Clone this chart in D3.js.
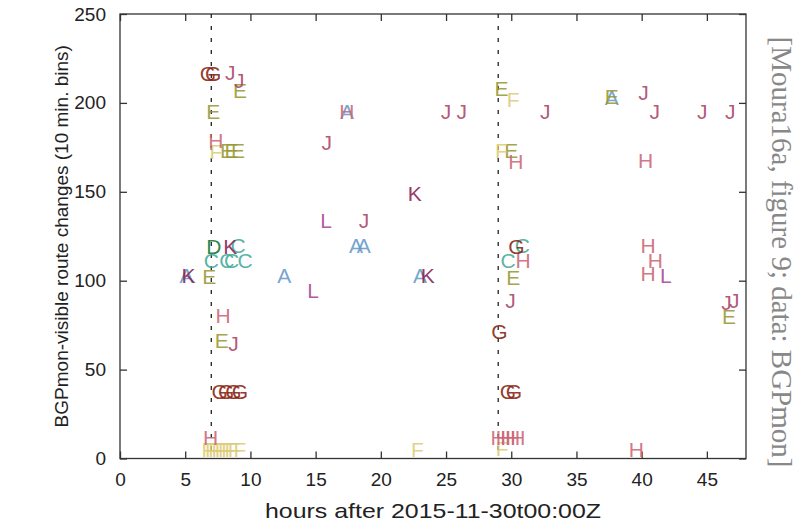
<!DOCTYPE html>
<html>
<head>
<meta charset="utf-8">
<script src="https://cdn.jsdelivr.net/npm/d3@7"></script>
<style>
  body { margin: 0; background: #fff; }
  svg { display: block; }
  .lbl { font-family: "Liberation Sans", Arial, sans-serif; }
</style>
</head>
<body>
<div id="chart"></div>
<script>
// letters (one per monitored prefix group) and their colours
var letters = ["A", "C", "D", "E", "F", "G", "H", "J", "K", "L"];
var letterColors = ["#6699cc", "#44aa99", "#117733", "#999933", "#ddcc77",
                    "#882211", "#cc6677", "#aa4466", "#882255", "#aa4499"];

// [hour, route changes] per letter
var ptsA = [[5.1, 103], [12.6, 103], [17.4, 195], [18.1, 120], [18.7, 120], [23.0, 103], [37.7, 203]];
var ptsC = [[7.0, 111.5], [8.2, 111.5], [8.55, 111.5], [9.05, 120], [9.6, 111.5], [29.75, 111.5], [30.85, 120]];
var ptsD = [[7.2, 119]];
var ptsE = [[6.85, 102.5], [7.15, 195], [7.8, 66.5], [8.2, 173], [8.55, 173], [9.05, 173], [9.2, 207],
            [29.25, 208], [30.0, 173.3], [30.15, 102], [37.7, 203.5], [46.7, 80]];
var ptsF = [[6.75, 5], [7.0, 5], [7.25, 5], [7.35, 172.5], [7.5, 5], [7.75, 5], [8.0, 5], [8.25, 5],
            [8.5, 5], [8.75, 5], [9.2, 5], [22.8, 5], [29.25, 173.3], [29.3, 5.5], [30.15, 202]];
var ptsG = [[6.75, 216.5], [7.15, 216.5], [7.65, 37.5], [8.15, 37.5], [8.7, 37.5], [9.2, 37.5],
            [29.1, 71.5], [29.75, 37.5], [30.2, 37.5], [30.4, 119]];
var ptsH = [[6.95, 12], [7.35, 179], [7.9, 80.5], [17.4, 195], [29.0, 12], [29.4, 12], [29.75, 12],
            [30.1, 12], [30.35, 167], [30.5, 12], [30.9, 111.5], [39.6, 5], [40.3, 167.5],
            [40.5, 120], [40.5, 104], [41.05, 111.5]];
var ptsJ = [[8.45, 217], [8.7, 64.5], [9.15, 212.5], [15.85, 178], [18.7, 134], [25.0, 195], [26.2, 195],
            [29.95, 89], [32.6, 195], [40.15, 206], [41.0, 195], [44.65, 195], [46.5, 88], [46.8, 195], [47.1, 89]];
var ptsK = [[5.25, 103], [8.45, 119], [22.6, 149], [23.6, 103]];
var ptsL = [[14.8, 94.7], [15.8, 134], [41.85, 103]];

var xTicks = [0, 5, 10, 15, 20, 25, 30, 35, 40, 45];
var yTicks = [0, 50, 100, 150, 200, 250];
var eventHours = [7, 29];

var allPts = [ptsA, ptsC, ptsD, ptsE, ptsF, ptsG, ptsH, ptsJ, ptsK, ptsL];

var width = 803, height = 525;
var mLeft = 120, mRight = 746, mTop = 14, mBottom = 458.5;

var svg = d3.select("#chart").append("svg")
    .attr("width", width)
    .attr("height", height);

var x = d3.scaleLinear().domain([0, 48]).range([mLeft, mRight]);
var y = d3.scaleLinear().domain([0, 250]).range([mBottom, mTop]);

//frame
svg.append("rect")
    .attr("x", mLeft).attr("y", mTop)
    .attr("width", mRight - mLeft).attr("height", mBottom - mTop)
    .style("fill", "none").style("stroke", "#333").style("stroke-width", 1.3);

//ticks, inward and mirrored (gnuplot style)
var tickLen = 7;
var axisStyle = function (g) {
    g.select(".domain").remove();
    g.selectAll(".tick line").style("stroke", "#333").style("stroke-width", 1.3);
    g.selectAll(".tick text")
        .attr("class", "lbl")
        .style("font-size", "19px")
        .style("fill", "#222");
};

svg.append("g")
    .attr("transform", "translate(0," + mBottom + ")")
    .call(d3.axisBottom(x).tickValues(xTicks).tickSize(-tickLen).tickPadding(14))
    .call(axisStyle);
svg.append("g")
    .attr("transform", "translate(0," + mTop + ")")
    .call(d3.axisTop(x).tickValues(xTicks).tickSize(-tickLen).tickFormat(""))
    .call(axisStyle);
svg.append("g")
    .attr("transform", "translate(" + mLeft + ",0)")
    .call(d3.axisLeft(y).tickValues(yTicks).tickSize(-tickLen).tickPadding(14))
    .call(axisStyle);
svg.append("g")
    .attr("transform", "translate(" + mRight + ",0)")
    .call(d3.axisRight(y).tickValues(yTicks).tickSize(-tickLen).tickFormat(""))
    .call(axisStyle);

//dashed event lines
svg.selectAll("line.event")
    .data(eventHours)
    .enter()
    .append("line")
    .attr("class", "event")
    .attr("x1", function (d) { return x(d); })
    .attr("x2", function (d) { return x(d); })
    .attr("y1", mTop)
    .attr("y2", mBottom)
    .style("stroke", "#222")
    .style("stroke-width", 1.3)
    .style("stroke-dasharray", "4,8");

//letter marks
letters.forEach(function (letter, i) {
    svg.append("g").selectAll("text")
        .data(allPts[i])
        .enter()
        .append("text")
        .attr("class", "lbl")
        .attr("x", function (d) { return x(d[0]); })
        .attr("y", function (d) { return y(d[1]); })
        .attr("text-anchor", "middle")
        .attr("dominant-baseline", "central")
        .style("font-size", "21px")
        .style("fill", letterColors[i])
        .style("fill-opacity", 0.9)
        .text(letter);
});

//axis titles
svg.append("text")
    .attr("class", "lbl")
    .attr("x", (mLeft + mRight) / 2)
    .attr("y", 518)
    .attr("text-anchor", "middle")
    .attr("textLength", 336)
    .attr("lengthAdjust", "spacingAndGlyphs")
    .style("font-size", "21px")
    .style("fill", "#222")
    .text("hours after 2015-11-30t00:00Z");

svg.append("text")
    .attr("class", "lbl")
    .attr("transform", "translate(68," + (mTop + mBottom) / 2 + ") rotate(-90)")
    .attr("text-anchor", "middle")
    .style("font-size", "19px")
    .style("fill", "#222")
    .text("BGPmon-visible route changes (10 min. bins)");

//source note
svg.append("text")
    .attr("transform", "translate(772," + 252 + ") rotate(90)")
    .attr("text-anchor", "middle")
    .style("font-family", "'Liberation Serif', 'Times New Roman', serif")
    .style("font-size", "29px")
    .style("fill", "#888")
    .text("[Moura16a, figure 9; data: BGPmon]");
</script>
</body>
</html>
